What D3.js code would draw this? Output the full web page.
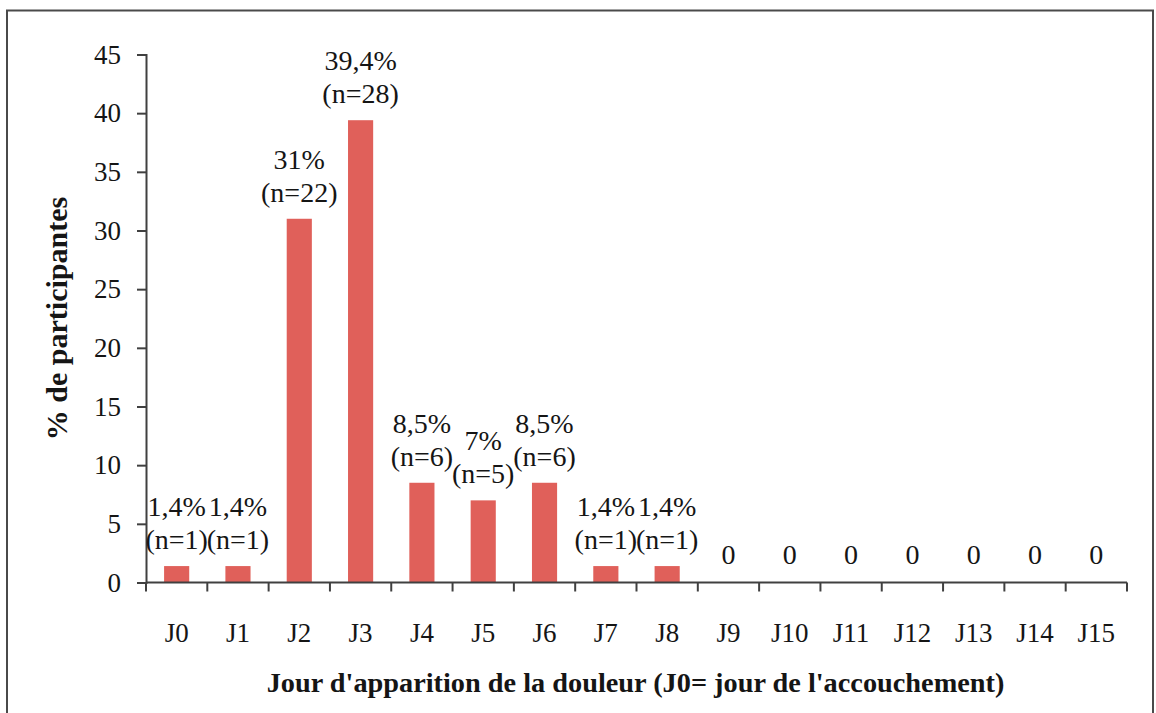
<!DOCTYPE html>
<html>
<head>
<meta charset="utf-8">
<script src="https://cdn.jsdelivr.net/npm/d3@7"></script>
<style>
  html, body { margin: 0; padding: 0; background: #fff; }
  svg { display: block; }
  text { font-family: "Liberation Serif", "Times New Roman", serif; fill: #151515; }
</style>
</head>
<body>
<svg id="chart" width="1156" height="713"></svg>
<script>
const categories = ["J0","J1","J2","J3","J4","J5","J6","J7","J8","J9","J10","J11","J12","J13","J14","J15"];
const values = [1.4, 1.4, 31, 39.4, 8.5, 7, 8.5, 1.4, 1.4, 0, 0, 0, 0, 0, 0, 0];
const pctLabels = ["1,4%","1,4%","31%","39,4%","8,5%","7%","8,5%","1,4%","1,4%","0","0","0","0","0","0","0"];
const nLabels = ["(n=1)","(n=1)","(n=22)","(n=28)","(n=6)","(n=5)","(n=6)","(n=1)","(n=1)","","","","","","",""];
const yTicks = [0,5,10,15,20,25,30,35,40,45];
const xTitle = "Jour d'apparition de la douleur (J0= jour de l'accouchement)";
const yTitle = "% de participantes";

const svg = d3.select("#chart");
const pLeft = 146, pRight = 1127, pTop = 54.5, pBottom = 582.5;

// frame
svg.append("rect")
  .attr("x", 7).attr("y", 10.5)
  .attr("width", 1146).attr("height", 740)
  .attr("fill", "none").attr("stroke", "#4a4a4a").attr("stroke-width", 2);

const x = d3.scaleBand().domain(categories).range([pLeft, pRight]).paddingInner(0.59).paddingOuter(0.295);
const xb = d3.scaleBand().domain(categories).range([pLeft, pRight]).padding(0);
const y = d3.scaleLinear().domain([0, 45]).range([pBottom, pTop]);

// bars
svg.append("g").selectAll("rect").data(values).join("rect")
  .attr("x", (d, i) => x(categories[i]))
  .attr("width", x.bandwidth())
  .attr("y", d => y(d))
  .attr("height", d => y(0) - y(d))
  .attr("fill", "#E0605A");

// y axis
const yAxis = svg.append("g")
  .attr("transform", `translate(${pLeft},0)`)
  .call(d3.axisLeft(y).tickValues(yTicks).tickSize(9).tickPadding(16));
yAxis.select(".domain").attr("stroke", "#404040").attr("stroke-width", 2);
yAxis.selectAll(".tick line").attr("stroke", "#404040").attr("stroke-width", 2);
yAxis.selectAll(".tick text")
  .style("font-family", '"Liberation Serif", serif')
  .attr("font-size", 27).attr("fill", "#151515");

// x axis: ticks at band boundaries
const xAxisG = svg.append("g").attr("transform", `translate(0,${pBottom})`);
xAxisG.append("line")
  .attr("x1", pLeft).attr("x2", pRight).attr("y1", 0).attr("y2", 0)
  .attr("stroke", "#404040").attr("stroke-width", 2);
const boundaries = categories.map(c => xb(c)).concat([pRight]);
xAxisG.selectAll("line.tk").data(boundaries).join("line")
  .attr("class", "tk")
  .attr("x1", d => d).attr("x2", d => d)
  .attr("y1", 0).attr("y2", 9)
  .attr("stroke", "#404040").attr("stroke-width", 2);
xAxisG.selectAll("text").data(categories).join("text")
  .attr("x", d => xb(d) + xb.bandwidth() / 2)
  .attr("y", 59)
  .attr("text-anchor", "middle")
  .attr("font-size", 27)
  .text(d => d);

// data labels
const lab = svg.append("g");
values.forEach((v, i) => {
  const cx = x(categories[i]) + x.bandwidth() / 2;
  const base = y(v) - 17;
  if (nLabels[i]) {
    lab.append("text").attr("x", cx).attr("y", base).attr("text-anchor", "middle")
      .attr("font-size", 28).text(nLabels[i]);
    lab.append("text").attr("x", cx).attr("y", base - 33).attr("text-anchor", "middle")
      .attr("font-size", 28).text(pctLabels[i]);
  } else {
    lab.append("text").attr("x", cx).attr("y", base - 2).attr("text-anchor", "middle")
      .attr("font-size", 28).text(pctLabels[i]);
  }
});

// titles
svg.append("text")
  .attr("x", (pLeft + pRight) / 2 - 1)
  .attr("y", 692)
  .attr("text-anchor", "middle")
  .attr("font-size", 28.3).attr("font-weight", "bold")
  .text(xTitle);

svg.append("text")
  .attr("transform", `translate(67,${(pTop + pBottom) / 2}) rotate(-90)`)
  .attr("text-anchor", "middle")
  .attr("font-size", 30).attr("font-weight", "bold")
  .text(yTitle);
</script>
</body>
</html>
